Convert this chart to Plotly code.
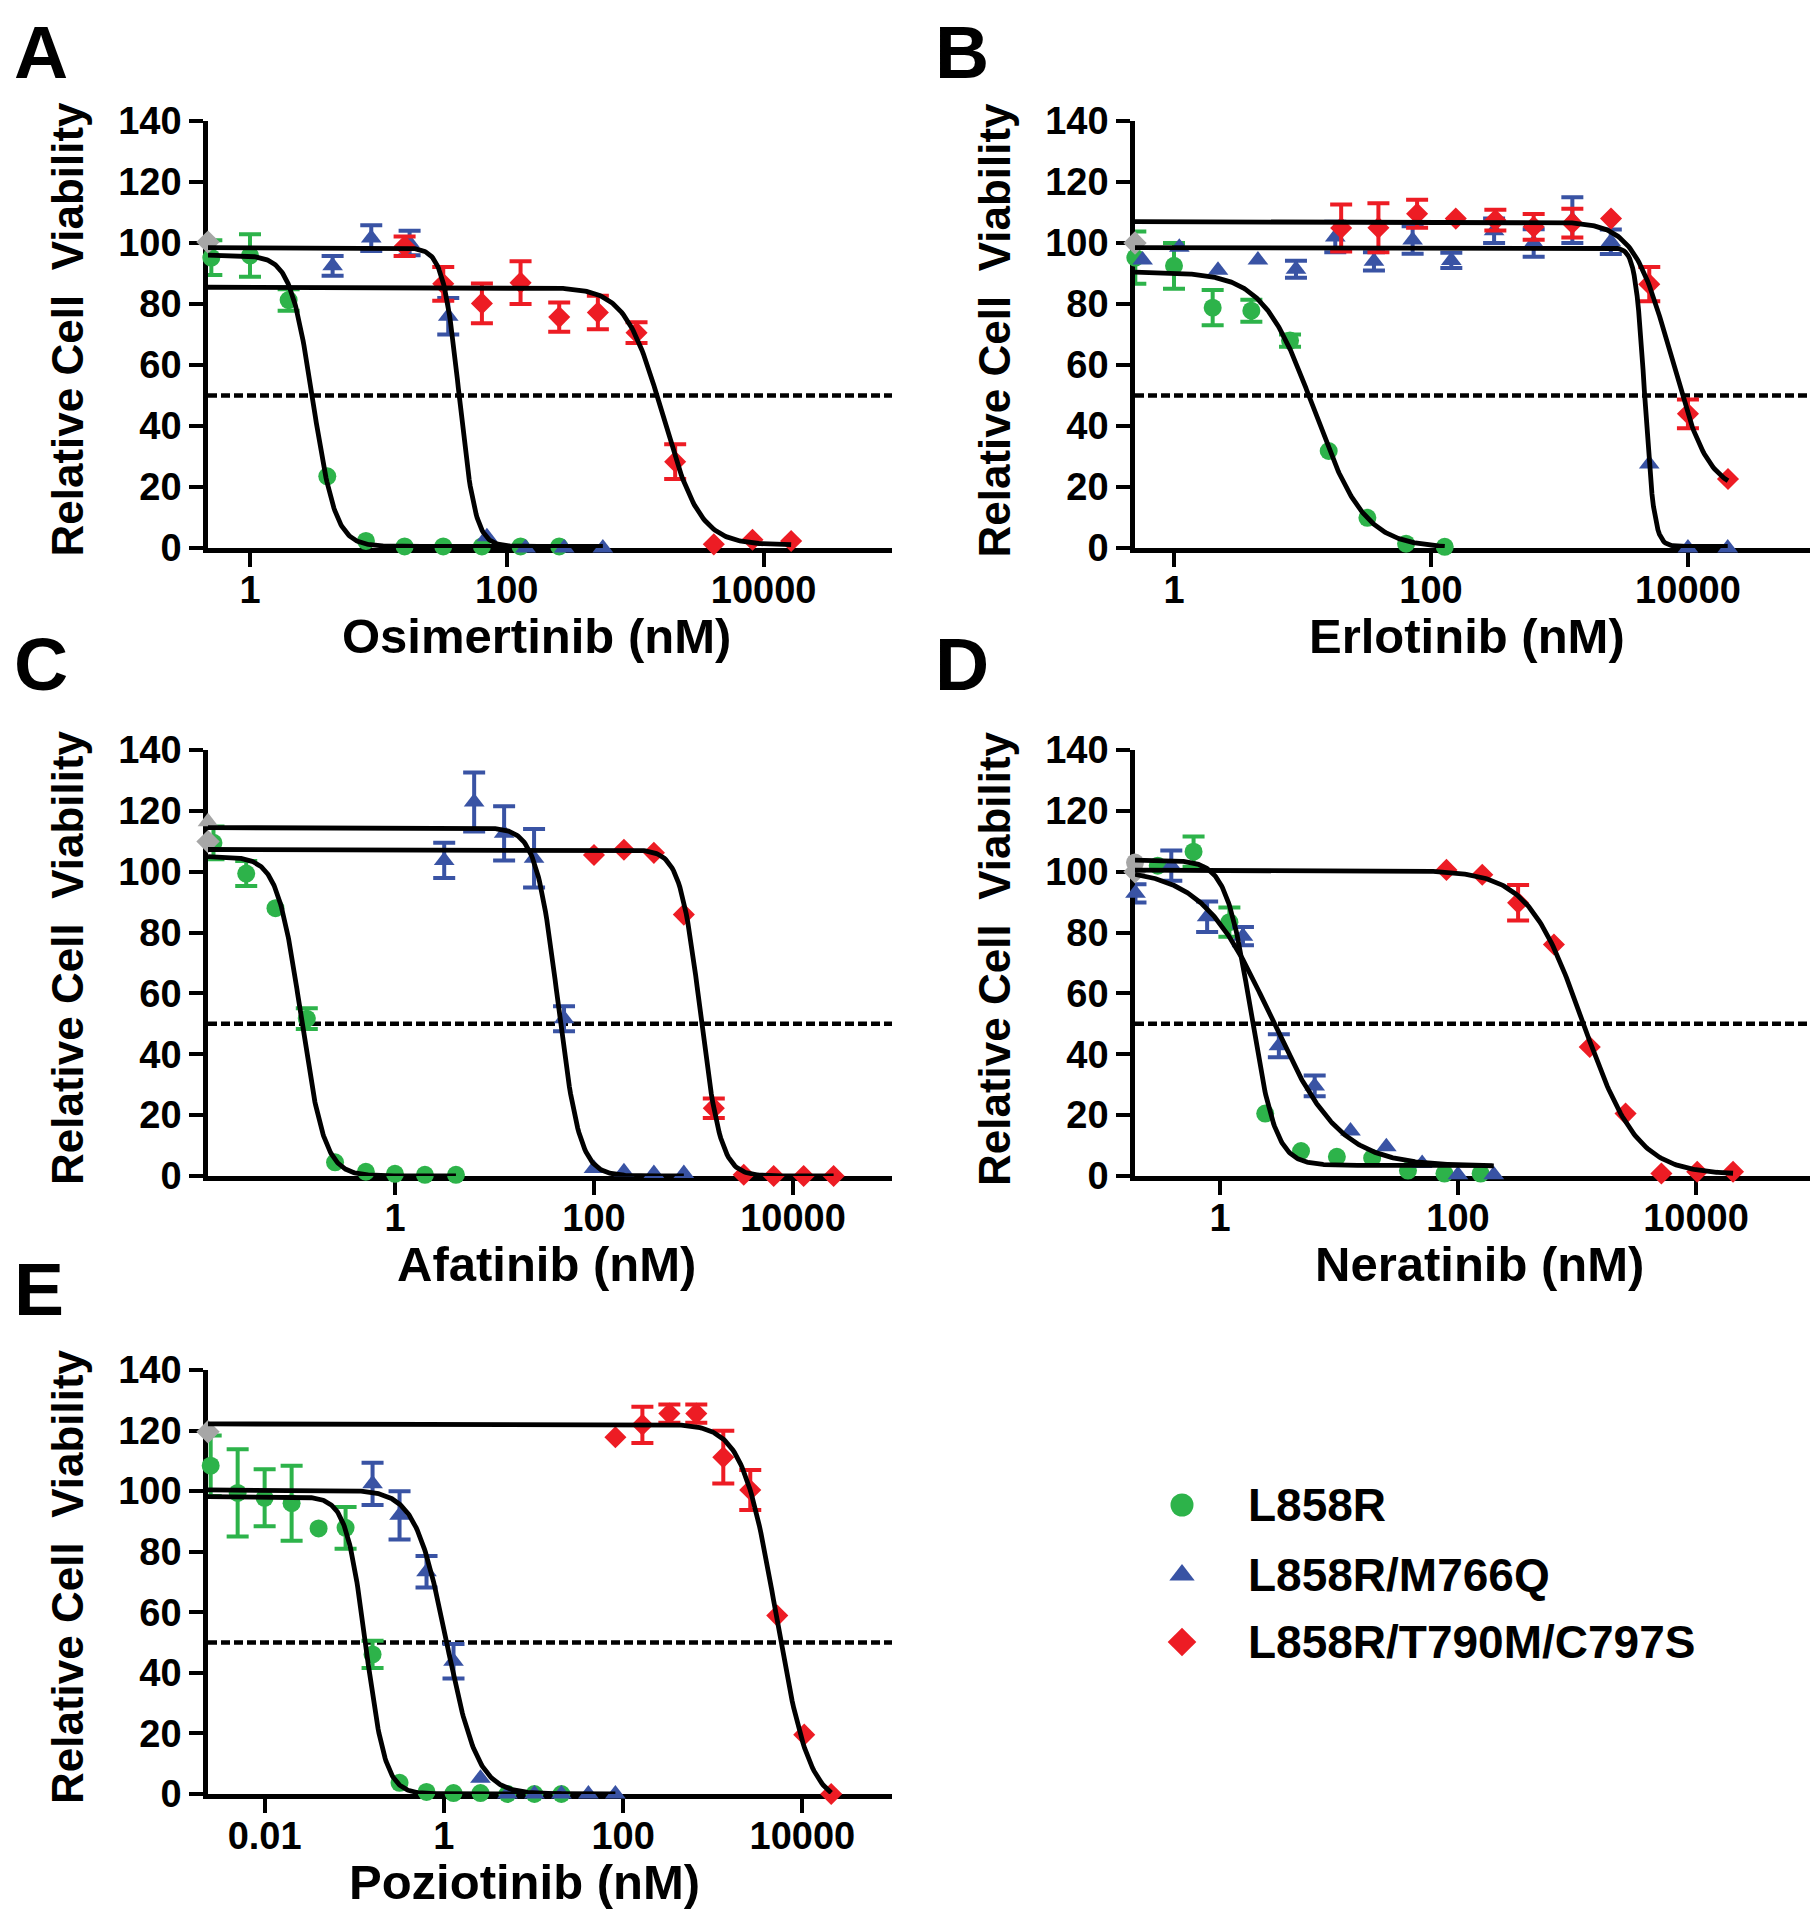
import numpy as np
import plotly.graph_objects as go

# ------------------------------------------------------------------
# Values
# concentration (nM), relative cell viability (%), error (SEM)
# ------------------------------------------------------------------
SERIES = ["L858R", "L858R/M766Q", "L858R/T790M/C797S"]

# Panel A - Osimertinib
A_L858R_x = [0.5, 1, 2, 4, 8, 16, 32, 64, 128, 256]
A_L858R_y = [95.2, 95.9, 81.3, 23.5, 2.3, 0.5, 0.5, 0.5, 0.5, 0.5]
A_L858R_e = [5.7, 7.0, 3.5, 0, 0, 0, 0, 0, 0, 0]
A_M766Q_x = [4.4, 8.8, 17.5, 35, 70, 140, 280, 560]
A_M766Q_y = [92.5, 101.6, 100.0, 76.0, 3.7, 0, 0, 0]
A_M766Q_e = [3.2, 4.2, 4.0, 6.0, 0, 0, 0, 0]
A_C797S_x = [16, 32, 64, 128, 256, 512, 1024, 2048, 4096, 8192, 16384]
A_C797S_y = [98.9, 86.6, 80.2, 87.0, 75.7, 77.2, 70.6, 28.3, 1.2, 2.7, 2.3]
A_C797S_e = [3.2, 5.5, 6.5, 7.0, 4.8, 5.5, 3.4, 5.7, 0, 0, 0]
A_ctrl_y = [100.3]
A_ctrl_sym = ["diamond"]
A_fit_top = [96.0, 98.5, 85.5]
A_fit_bottom = [0.5, 0.5, 1.0]
A_fit_logic50 = [0.49, 1.63, 3.216]
A_fit_hill = [5.0, 7.0, 3.0]

# Panel B - Erlotinib
B_L858R_x = [0.5, 1, 2, 4, 8, 16, 32, 64, 128]
B_L858R_y = [95.2, 92.5, 78.8, 77.8, 68.0, 31.8, 9.9, 1.4, 0.4]
B_L858R_e = [8.6, 7.5, 5.8, 3.6, 2.0, 0, 0, 0, 0]
B_M766Q_x = [0.57, 1.1, 2.2, 4.5, 8.9, 18, 36, 72, 144, 310, 630, 1260, 2510, 5000, 10000, 20400]
B_M766Q_y = [94.4, 98.6, 91.1, 94.4, 91.4, 102.0, 94.0, 101.0, 94.3, 104.0, 100.0, 107.5, 100.4, 27.5, 0, 0]
B_M766Q_e = [0, 0, 0, 0, 2.8, 5.0, 3.0, 4.5, 2.5, 4.0, 4.5, 7.5, 4.0, 0, 0, 0]
B_C797S_x = [20, 39, 78, 156, 317, 630, 1260, 2520, 5000, 10000, 20500]
B_C797S_y = [104.9, 105.0, 109.6, 108.0, 107.5, 105.3, 106.5, 108.0, 86.5, 44.0, 22.6]
B_C797S_e = [7.7, 8.0, 4.6, 0, 3.4, 4.2, 4.7, 0, 5.6, 4.7, 0]
B_ctrl_y = [100.0]
B_ctrl_sym = ["diamond"]
B_fit_top = [90.5, 98.5, 107.0]
B_fit_bottom = [0.0, 0.5, 18.0]
B_fit_logic50 = [1.09, 3.664, 3.87]
B_fit_hill = [2.2, 12.0, 3.0]

# Panel C - Afatinib
C_L858R_x = [0.015, 0.032, 0.063, 0.13, 0.25, 0.51, 1.0, 2.0, 4.1]
C_L858R_y = [109.5, 99.4, 88.0, 51.7, 4.5, 1.4, 0.7, 0.4, 0.4]
C_L858R_e = [5.4, 4.1, 0, 3.4, 0, 0, 0, 0, 0]
C_M766Q_x = [3.125, 6.25, 12.5, 25, 50, 100, 200, 400, 800]
C_M766Q_y = [103.7, 122.9, 112.6, 104.4, 51.7, 2.5, 1.4, 0.8, 0.8]
C_M766Q_e = [5.8, 9.7, 8.9, 9.6, 4.1, 0, 0, 0, 0]
C_C797S_x = [100, 200, 400, 800, 1600, 3200, 6400, 12800, 25600]
C_C797S_y = [105.5, 107.2, 106.2, 85.9, 22.3, 0.4, 0, 0, 0]
C_C797S_e = [0, 0, 0, 0, 3.2, 0, 0, 0, 0]
C_ctrl_y = [116.4, 109.9]
C_ctrl_sym = ["triangle-up", "diamond"]
C_fit_top = [105.0, 114.5, 107.3]
C_fit_bottom = [0.0, 0.0, 0.0]
C_fit_logic50 = [-0.945, 1.637, 3.069]
C_fit_hill = [3.7, 4.0, 4.3]

# Panel D - Neratinib
D_L858R_x = [0.30, 0.60, 1.2, 2.4, 4.8, 9.6, 19, 38, 77, 155]
D_L858R_y = [102.0, 106.6, 83.4, 20.5, 8.2, 6.3, 5.9, 1.8, 0.8, 0.8]
D_L858R_e = [0, 5.0, 4.8, 0, 0, 0, 0, 0, 0, 0]
D_M766Q_x = [0.195, 0.39, 0.78, 1.56, 3.125, 6.25, 12.5, 25, 50, 100, 200]
D_M766Q_y = [92.9, 102.0, 85.2, 78.8, 42.8, 29.6, 14.8, 9.6, 4.1, 0.4, 0.4]
D_M766Q_e = [3.0, 5.0, 5.0, 3.0, 3.8, 3.4, 0, 0, 0, 0, 0]
D_C797S_x = [80, 160, 320, 640, 1280, 2560, 5120, 10240, 20480]
D_C797S_y = [100.6, 99.0, 89.8, 76.1, 42.4, 20.5, 0.8, 1.4, 1.4]
D_C797S_e = [0, 0, 5.8, 0, 0, 0, 0, 0, 0]
D_ctrl_y = [103.0, 100.0]
D_ctrl_sym = ["circle", "diamond"]
D_fit_top = [103.8, 101.0, 100.5]
D_fit_bottom = [3.5, 3.2, 0.5]
D_fit_logic50 = [0.26, 0.43, 3.05]
D_fit_hill = [4.2, 1.5, 1.9]

# Panel E - Poziotinib
E_L858R_x = [0.0025, 0.005, 0.01, 0.02, 0.04, 0.08, 0.16, 0.32, 0.64, 1.28, 2.56, 5.12, 10.24, 20.48]
E_L858R_y = [108.4, 99.4, 97.8, 96.0, 87.7, 87.9, 46.1, 3.7, 0.7, 0.3, 0.3, 0, 0, 0]
E_L858R_e = [10.0, 14.4, 9.4, 12.4, 0, 6.9, 4.5, 0, 0, 0, 0, 0, 0, 0]
E_M766Q_x = [0.16, 0.32, 0.64, 1.28, 2.56, 5.12, 10.24, 20.48, 40.96, 81.92]
E_M766Q_y = [102.4, 92.0, 73.4, 43.8, 5.2, 0, 0, 0, 0, 0]
E_M766Q_e = [7.0, 8.0, 5.2, 5.7, 0, 0, 0, 0, 0, 0]
E_C797S_x = [82, 164, 328, 655, 1311, 2621, 5243, 10486, 20972]
E_C797S_y = [117.8, 121.9, 125.6, 125.6, 111.2, 100.4, 58.9, 19.6, 0]
E_C797S_e = [0, 6.0, 3.0, 3.0, 8.7, 6.6, 0, 0, 0]
E_ctrl_y = [119.6]
E_ctrl_sym = ["diamond"]
E_fit_top = [98.2, 100.4, 122.2]
E_fit_bottom = [0.0, 0.0, -4.0]
E_fit_logic50 = [-0.872, 0.03, 3.707]
E_fit_hill = [4.0, 2.5, 2.35]

Y_TICKS = [0, 20, 40, 60, 80, 100, 120, 140]
X_TICKS_ABCD = [1, 100, 10000]
X_TICKLABELS_ABCD = ["1", "100", "10000"]
X_TICKS_E = [0.01, 1, 100, 10000]
X_TICKLABELS_E = ["0.01", "1", "100", "10000"]

# ------------------------------------------------------------------
# Styling / layout  (coordinates below are page pixels; the page body
# has an 8 px margin, so the figure is 16 px smaller than the window)
# ------------------------------------------------------------------
OFF = 8
W, H = 1819 - 2 * OFF, 1920 - 2 * OFF
COLORS = ["#2DB34A", "#3953A4", "#ED1C24"]
SYMBOLS = ["circle", "triangle-up", "diamond"]
SIZES = [18, 18, 17]
GRAY = "#A6A6A6"
FONT = "Liberation Sans, Arial, Helvetica, sans-serif"

COLS = [(208, 892), (1135, 1810)]               # pixel x of plot area
ROWS = [(121, 548), (750, 1176), (1370, 1794)]  # pixel y (top=140, bottom=0)

panels = [
    dict(letter="A", drug="Osimertinib (nM)", col=0, row=0, xr=[-0.327, 5.0],
         ticks=X_TICKS_ABCD, labels=X_TICKLABELS_ABCD, title_x=536,
         series=[(A_L858R_x, A_L858R_y, A_L858R_e), (A_M766Q_x, A_M766Q_y, A_M766Q_e),
                 (A_C797S_x, A_C797S_y, A_C797S_e)],
         ctrl=(A_ctrl_y, A_ctrl_sym),
         fit=(A_fit_top, A_fit_bottom, A_fit_logic50, A_fit_hill)),
    dict(letter="B", drug="Erlotinib (nM)", col=1, row=0, xr=[-0.3035, 4.95],
         ticks=X_TICKS_ABCD, labels=X_TICKLABELS_ABCD, title_x=1467,
         series=[(B_L858R_x, B_L858R_y, B_L858R_e), (B_M766Q_x, B_M766Q_y, B_M766Q_e),
                 (B_C797S_x, B_C797S_y, B_C797S_e)],
         ctrl=(B_ctrl_y, B_ctrl_sym),
         fit=(B_fit_top, B_fit_bottom, B_fit_logic50, B_fit_hill)),
    dict(letter="C", drug="Afatinib (nM)", col=0, row=1, xr=[-1.879, 4.995],
         ticks=X_TICKS_ABCD, labels=X_TICKLABELS_ABCD, title_x=546,
         series=[(C_L858R_x, C_L858R_y, C_L858R_e), (C_M766Q_x, C_M766Q_y, C_M766Q_e),
                 (C_C797S_x, C_C797S_y, C_C797S_e)],
         ctrl=(C_ctrl_y, C_ctrl_sym),
         fit=(C_fit_top, C_fit_bottom, C_fit_logic50, C_fit_hill)),
    dict(letter="D", drug="Neratinib (nM)", col=1, row=1, xr=[-0.714, 4.958],
         ticks=X_TICKS_ABCD, labels=X_TICKLABELS_ABCD, title_x=1479,
         series=[(D_L858R_x, D_L858R_y, D_L858R_e), (D_M766Q_x, D_M766Q_y, D_M766Q_e),
                 (D_C797S_x, D_C797S_y, D_C797S_e)],
         ctrl=(D_ctrl_y, D_ctrl_sym),
         fit=(D_fit_top, D_fit_bottom, D_fit_logic50, D_fit_hill)),
    dict(letter="E", drug="Poziotinib (nM)", col=0, row=2, xr=[-2.632, 5.0],
         ticks=X_TICKS_E, labels=X_TICKLABELS_E, title_x=524,
         series=[(E_L858R_x, E_L858R_y, E_L858R_e), (E_M766Q_x, E_M766Q_y, E_M766Q_e),
                 (E_C797S_x, E_C797S_y, E_C797S_e)],
         ctrl=(E_ctrl_y, E_ctrl_sym),
         fit=(E_fit_top, E_fit_bottom, E_fit_logic50, E_fit_hill)),
]
LETTER_Y = [52, 664, 1289]


def px(x):
    return (x - OFF) / W


def py(y):
    return 1 - (y - OFF) / H


def bold(size):
    return dict(family=FONT, size=size, color="black", weight="bold")


fig = go.Figure()
layout = dict(width=W, height=H, margin=dict(l=0, r=0, t=0, b=0, pad=0, autoexpand=False),
              paper_bgcolor="white", plot_bgcolor="white", showlegend=False)
annotations = []
shapes = []

for i, p in enumerate(panels, start=1):
    xa = "x" if i == 1 else f"x{i}"
    ya = "y" if i == 1 else f"y{i}"
    x0, x1 = COLS[p["col"]]
    y0, y1 = ROWS[p["row"]]
    axstyle = dict(showline=True, linecolor="black", linewidth=4.5, ticks="outside",
                   ticklen=14, tickwidth=3.5, tickcolor="black", showgrid=False,
                   zeroline=False, tickfont=bold(38), layer="below traces",
                   fixedrange=True, automargin=False)
    layout["xaxis" if i == 1 else f"xaxis{i}"] = dict(
        type="log", range=p["xr"], domain=[px(x0), px(x1)], anchor=ya,
        tickmode="array", tickvals=p["ticks"], ticktext=p["labels"],
        ticklabelstandoff=-9, **axstyle)
    layout["yaxis" if i == 1 else f"yaxis{i}"] = dict(
        range=[0, 140], domain=[py(y1), py(y0)], anchor=xa,
        tickmode="array", tickvals=Y_TICKS, ticktext=[str(v) for v in Y_TICKS],
        **axstyle)

    # 50 % reference line
    shapes.append(dict(type="line", xref=f"{xa} domain", yref=ya, x0=0, x1=1,
                       y0=50, y1=50, layer="below",
                       line=dict(color="black", width=4.5, dash="9px,4px")))

    # data points
    for k, (sx, sy, se) in enumerate(p["series"]):
        sx = np.array(sx, float); sy = np.array(sy, float); se = np.array(se, float)
        has = se > 0
        common = dict(mode="markers", xaxis=xa, yaxis=ya, cliponaxis=False,
                      name=SERIES[k], hoverinfo="skip",
                      marker=dict(symbol=SYMBOLS[k], size=SIZES[k], color=COLORS[k],
                                  line=dict(width=0)))
        if has.any():
            fig.add_trace(go.Scatter(x=sx[has], y=sy[has],
                                     error_y=dict(type="data", array=se[has], visible=True,
                                                  color=COLORS[k], thickness=4, width=11),
                                     **common))
        if (~has).any():
            fig.add_trace(go.Scatter(x=sx[~has], y=sy[~has], **common))

    # untreated controls plotted on the y axis
    cy, cs = p["ctrl"]
    fig.add_trace(go.Scatter(x=[10 ** p["xr"][0]] * len(cy), y=cy, mode="markers",
                             xaxis=xa, yaxis=ya, cliponaxis=False, hoverinfo="skip",
                             marker=dict(symbol=cs, size=18, color=GRAY)))

    # fitted dose-response curves (4-parameter logistic, parameters)
    top, bot, lic, hill = p["fit"]
    for k, (sx, sy, se) in enumerate(p["series"]):
        lx = np.linspace(p["xr"][0], np.log10(max(sx)), 400)
        cy_ = bot[k] + (top[k] - bot[k]) / (1 + 10 ** ((lx - lic[k]) * hill[k]))
        fig.add_trace(go.Scatter(x=10 ** lx, y=cy_, mode="lines", xaxis=xa, yaxis=ya,
                                 hoverinfo="skip",
                                 line=dict(color="black", width=4.8, shape="linear")))

    # titles
    annotations.append(dict(text=p["drug"], x=px(p["title_x"]), y=py(y1 + 88),
                            xref="paper", yref="paper", showarrow=False,
                            xanchor="center", yanchor="middle", font=bold(49)))
    annotations.append(dict(text="Relative Cell\u00a0 Viability", x=px(x0 - 141),
                            y=py((y0 + y1) / 2 - 5), xref="paper", yref="paper",
                            showarrow=False, textangle=-90, xanchor="center",
                            yanchor="middle", font=bold(44)))
    annotations.append(dict(text=p["letter"], x=px(x0 - 196 if p["col"] == 0 else x0 - 202),
                            y=py(LETTER_Y[p["row"]]), xref="paper", yref="paper",
                            showarrow=False, xanchor="left", yanchor="middle",
                            font=bold(75)))

# ---- legend (drawn manually so the symbols can be as large as in the figure) ----
LEG_X = 1182
LEG_ROWS = [1505, 1575, 1642]
LEG_SIZES = [23, 22, 22]
layout["xaxis6"] = dict(domain=[px(1140), px(1225)], range=[1140, 1225], visible=False,
                        fixedrange=True, anchor="y6", automargin=False)
layout["yaxis6"] = dict(domain=[py(1690), py(1460)], range=[1690, 1460], visible=False,
                        fixedrange=True, anchor="x6", automargin=False)
for k in range(3):
    fig.add_trace(go.Scatter(x=[LEG_X], y=[LEG_ROWS[k]], mode="markers", xaxis="x6",
                             yaxis="y6", cliponaxis=False, hoverinfo="skip",
                             marker=dict(symbol=SYMBOLS[k], size=LEG_SIZES[k],
                                         color=COLORS[k])))
    annotations.append(dict(text=SERIES[k], x=px(1246), y=py(LEG_ROWS[k]), xref="paper",
                            yref="paper", showarrow=False, xanchor="left",
                            yanchor="middle", font=bold(46)))

layout["annotations"] = annotations
layout["shapes"] = shapes
fig.update_layout(**layout)
fig.write_html("out.html")
